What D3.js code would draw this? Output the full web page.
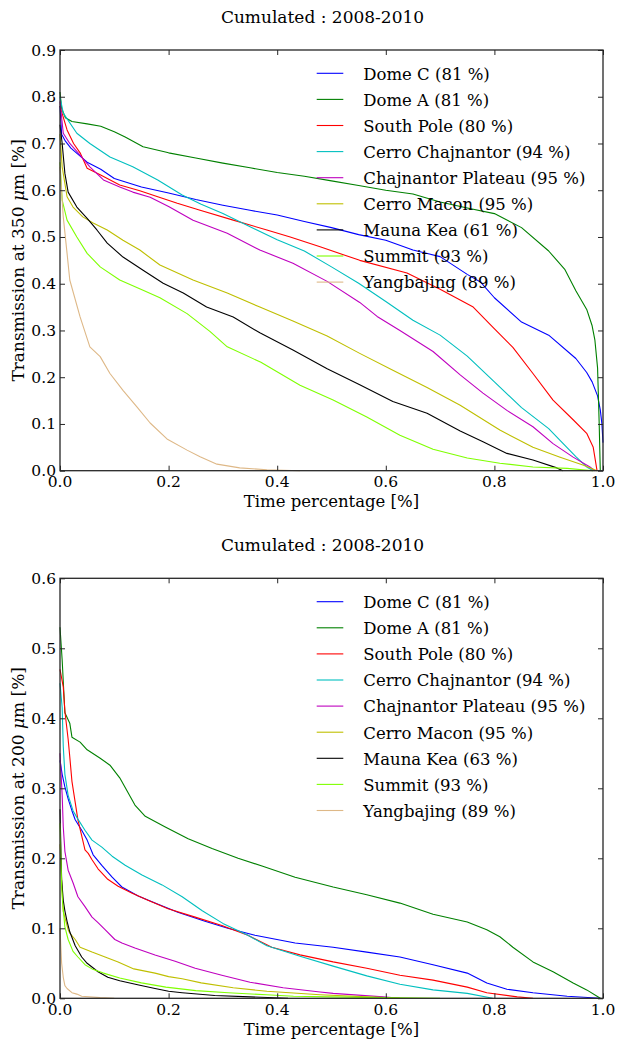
<!DOCTYPE html>
<html>
<head>
<meta charset="utf-8">
<script src="https://cdn.jsdelivr.net/npm/d3@7"></script>
<style>
  body { margin: 0; background: #fff; }
</style>
</head>
<body>
<svg id="chart" width="617" height="1041"></svg>
<script>
// sites, colours and the share of usable time shown in the legend
const siteNames = ['Dome C', 'Dome A', 'South Pole', 'Cerro Chajnantor', 'Chajnantor Plateau',
  'Cerro Macon', 'Mauna Kea', 'Summit', 'Yangbajing'];
const siteColors = ['#0000ff', '#008000', '#ff0000', '#00bfbf', '#bf00bf',
  '#bfbf00', '#000000', '#7fff00', '#deb887'];
const share350 = [81, 81, 80, 94, 95, 95, 61, 93, 89];
const share200 = [81, 81, 80, 94, 95, 95, 63, 93, 89];

const xTicks = [0, 0.2, 0.4, 0.6, 0.8, 1.0];
const yTicks350 = [0, 0.1, 0.2, 0.3, 0.4, 0.5, 0.6, 0.7, 0.8, 0.9];
const yTicks200 = [0, 0.1, 0.2, 0.3, 0.4, 0.5, 0.6];

// [time fraction, transmission], 350 um
const domeC350 = [[0,0.78],[0.003,0.72],[0.01,0.705],[0.02,0.69],[0.05,0.66],[0.075,0.645],[0.1,0.625],[0.15,0.607],[0.2,0.594],[0.25,0.58],[0.3,0.568],[0.35,0.557],[0.4,0.547],[0.45,0.533],[0.5,0.52],[0.55,0.505],[0.6,0.493],[0.65,0.472],[0.7,0.458],[0.75,0.42],[0.775,0.403],[0.8,0.37],[0.85,0.318],[0.9,0.29],[0.95,0.24],[0.97,0.21],[0.98,0.19],[0.99,0.16],[0.995,0.13],[0.998,0.1],[1,0.06]];
const domeA350 = [[0,0.81],[0.003,0.775],[0.01,0.755],[0.022,0.747],[0.05,0.742],[0.075,0.737],[0.1,0.725],[0.12,0.714],[0.153,0.693],[0.2,0.68],[0.25,0.669],[0.3,0.658],[0.35,0.648],[0.4,0.638],[0.45,0.63],[0.5,0.62],[0.55,0.61],[0.6,0.6],[0.65,0.592],[0.7,0.575],[0.75,0.562],[0.8,0.55],[0.85,0.52],[0.9,0.47],[0.93,0.43],[0.95,0.385],[0.97,0.345],[0.98,0.31],[0.985,0.28],[0.99,0.22],[0.993,0.1],[0.995,0]];
const southPole350 = [[0,0.78],[0.005,0.76],[0.013,0.729],[0.025,0.7],[0.037,0.68],[0.05,0.647],[0.074,0.633],[0.11,0.611],[0.147,0.599],[0.18,0.586],[0.216,0.572],[0.258,0.557],[0.319,0.536],[0.381,0.515],[0.424,0.5],[0.479,0.479],[0.552,0.45],[0.639,0.423],[0.7,0.388],[0.761,0.35],[0.797,0.307],[0.834,0.264],[0.871,0.208],[0.908,0.151],[0.945,0.109],[0.97,0.08],[0.982,0.05],[0.989,0]];
const cerroChaj350 = [[0,0.8],[0.006,0.765],[0.031,0.722],[0.055,0.7],[0.092,0.671],[0.134,0.65],[0.18,0.622],[0.225,0.59],[0.26,0.57],[0.3,0.55],[0.35,0.522],[0.4,0.494],[0.45,0.47],[0.5,0.436],[0.55,0.401],[0.6,0.362],[0.65,0.322],[0.7,0.29],[0.75,0.245],[0.8,0.19],[0.85,0.135],[0.9,0.09],[0.92,0.066],[0.95,0.03],[0.97,0.008],[0.982,0]];
const chajPlat350 = [[0,0.79],[0.006,0.722],[0.018,0.7],[0.037,0.675],[0.055,0.65],[0.08,0.622],[0.11,0.607],[0.134,0.596],[0.166,0.585],[0.2,0.565],[0.245,0.536],[0.308,0.508],[0.368,0.472],[0.429,0.444],[0.492,0.405],[0.552,0.36],[0.584,0.33],[0.626,0.3],[0.687,0.255],[0.737,0.205],[0.779,0.166],[0.823,0.129],[0.871,0.094],[0.908,0.058],[0.945,0.029],[0.976,0.008],[0.985,0]];
const cerroMacon350 = [[0,0.72],[0.004,0.65],[0.013,0.586],[0.024,0.564],[0.042,0.543],[0.061,0.53],[0.087,0.515],[0.116,0.493],[0.147,0.472],[0.184,0.44],[0.245,0.408],[0.308,0.38],[0.368,0.35],[0.429,0.32],[0.492,0.288],[0.552,0.251],[0.613,0.215],[0.676,0.178],[0.737,0.14],[0.81,0.087],[0.871,0.05],[0.921,0.029],[0.963,0.012],[0.989,0]];
const maunaKea350 = [[0,0.74],[0.004,0.7],[0.009,0.636],[0.015,0.596],[0.031,0.564],[0.05,0.54],[0.068,0.515],[0.087,0.487],[0.116,0.457],[0.153,0.429],[0.19,0.401],[0.227,0.38],[0.27,0.35],[0.319,0.329],[0.368,0.295],[0.429,0.258],[0.492,0.218],[0.552,0.184],[0.613,0.148],[0.676,0.123],[0.737,0.085],[0.779,0.062],[0.823,0.037],[0.871,0.023],[0.915,0.006],[0.926,0]];
const summit350 = [[0,0.66],[0.004,0.579],[0.013,0.536],[0.031,0.5],[0.05,0.465],[0.074,0.436],[0.11,0.408],[0.153,0.386],[0.184,0.37],[0.234,0.336],[0.276,0.298],[0.308,0.265],[0.37,0.232],[0.442,0.183],[0.503,0.151],[0.565,0.115],[0.626,0.076],[0.687,0.046],[0.75,0.027],[0.81,0.016],[0.871,0.008],[0.934,0.005],[0.982,0]];
const yangbajing350 = [[0,0.65],[0.006,0.543],[0.013,0.465],[0.018,0.408],[0.037,0.329],[0.055,0.265],[0.074,0.244],[0.092,0.208],[0.116,0.172],[0.142,0.136],[0.166,0.102],[0.197,0.068],[0.234,0.044],[0.258,0.03],[0.289,0.014],[0.331,0.006],[0.381,0.002],[0.442,0]];

// same, 200 um
const domeC200 = [[0,0.34],[0.004,0.32],[0.009,0.302],[0.015,0.285],[0.022,0.268],[0.028,0.255],[0.04,0.24],[0.05,0.226],[0.061,0.205],[0.077,0.19],[0.096,0.173],[0.114,0.159],[0.144,0.146],[0.175,0.136],[0.217,0.123],[0.267,0.11],[0.309,0.1],[0.359,0.09],[0.433,0.079],[0.503,0.073],[0.565,0.066],[0.626,0.059],[0.687,0.048],[0.75,0.036],[0.786,0.022],[0.823,0.013],[0.871,0.008],[0.934,0.003],[0.995,0]];
const domeA200 = [[0,0.53],[0.004,0.483],[0.009,0.408],[0.018,0.393],[0.022,0.373],[0.037,0.366],[0.05,0.355],[0.074,0.343],[0.092,0.333],[0.11,0.315],[0.138,0.276],[0.157,0.26],[0.193,0.245],[0.236,0.228],[0.28,0.214],[0.328,0.2],[0.372,0.189],[0.433,0.173],[0.503,0.159],[0.565,0.148],[0.626,0.136],[0.687,0.12],[0.75,0.109],[0.786,0.098],[0.81,0.088],[0.834,0.073],[0.871,0.052],[0.908,0.038],[0.945,0.022],[0.97,0.012],[0.995,0]];
const southPole200 = [[0,0.47],[0.006,0.445],[0.009,0.41],[0.015,0.37],[0.018,0.345],[0.022,0.31],[0.028,0.28],[0.033,0.255],[0.04,0.232],[0.046,0.212],[0.052,0.207],[0.059,0.198],[0.07,0.185],[0.088,0.17],[0.107,0.16],[0.133,0.15],[0.162,0.14],[0.199,0.128],[0.249,0.116],[0.298,0.104],[0.346,0.09],[0.39,0.073],[0.442,0.062],[0.503,0.052],[0.565,0.043],[0.626,0.033],[0.687,0.026],[0.75,0.016],[0.786,0.008],[0.842,0.002],[0.871,0]];
const cerroChaj200 = [[0,0.45],[0.004,0.415],[0.006,0.36],[0.009,0.32],[0.015,0.29],[0.024,0.268],[0.033,0.256],[0.046,0.24],[0.059,0.226],[0.077,0.216],[0.096,0.203],[0.12,0.19],[0.151,0.176],[0.188,0.162],[0.225,0.145],[0.262,0.125],[0.3,0.107],[0.346,0.09],[0.381,0.075],[0.442,0.06],[0.503,0.046],[0.565,0.032],[0.626,0.02],[0.687,0.012],[0.75,0.007],[0.797,0]];
const chajPlat200 = [[0,0.35],[0.004,0.29],[0.006,0.245],[0.009,0.21],[0.015,0.183],[0.024,0.165],[0.033,0.145],[0.046,0.131],[0.059,0.116],[0.07,0.108],[0.083,0.098],[0.101,0.084],[0.114,0.079],[0.138,0.072],[0.175,0.062],[0.212,0.053],[0.249,0.043],[0.298,0.033],[0.35,0.023],[0.411,0.015],[0.479,0.009],[0.503,0.007],[0.595,0.002],[0.626,0]];
const cerroMacon200 = [[0,0.22],[0.004,0.152],[0.006,0.124],[0.015,0.098],[0.018,0.093],[0.028,0.084],[0.037,0.073],[0.059,0.066],[0.083,0.059],[0.107,0.052],[0.136,0.042],[0.175,0.036],[0.2,0.031],[0.225,0.028],[0.26,0.022],[0.319,0.015],[0.381,0.01],[0.479,0.005],[0.565,0.002],[0.626,0]];
const maunaKea200 = [[0,0.27],[0.003,0.17],[0.006,0.14],[0.009,0.125],[0.013,0.11],[0.018,0.095],[0.028,0.075],[0.04,0.059],[0.05,0.05],[0.07,0.038],[0.088,0.03],[0.11,0.025],[0.145,0.019],[0.175,0.014],[0.2,0.01],[0.225,0.008],[0.285,0.004],[0.35,0.002],[0.42,0]];
const summit200 = [[0,0.25],[0.003,0.16],[0.005,0.135],[0.009,0.102],[0.015,0.084],[0.024,0.067],[0.033,0.059],[0.046,0.048],[0.059,0.042],[0.08,0.036],[0.11,0.029],[0.15,0.022],[0.195,0.016],[0.25,0.011],[0.31,0.008],[0.38,0.005],[0.43,0.003],[0.5,0.002],[0.6,0.001],[0.7,0]];
const yangbajing200 = [[0,0.1],[0.003,0.05],[0.006,0.03],[0.009,0.018],[0.013,0.014],[0.022,0.008],[0.031,0.006],[0.04,0.003],[0.074,0.001],[0.1,0]];

const panels = [
  { wave: '350', top: 50, bottom: 470.7, yMax: 0.9, yTicks: yTicks350, shares: share350, legendTop: 73.3,
    series: [domeC350, domeA350, southPole350, cerroChaj350, chajPlat350, cerroMacon350, maunaKea350, summit350, yangbajing350] },
  { wave: '200', top: 578.3, bottom: 998.3, yMax: 0.6, yTicks: yTicks200, shares: share200, legendTop: 601.7,
    series: [domeC200, domeA200, southPole200, cerroChaj200, chajPlat200, cerroMacon200, maunaKea200, summit200, yangbajing200] },
];

const left = 60, right = 603, tickLen = 5;
const serif = "'DejaVu Serif', 'Liberation Serif', serif";
const svg = d3.select('#chart').attr('font-family', serif);
const x = d3.scaleLinear().domain([0, 1]).range([left, right]);

panels.forEach(p => {
  const y = d3.scaleLinear().domain([0, p.yMax]).range([p.bottom, p.top]);
  const g = svg.append('g');
  const line = d3.line().x(d => x(d[0])).y(d => y(d[1]));

  g.selectAll('path.site')
    .data(p.series)
    .enter()
    .append('path')
    .attr('class', 'site')
    .attr('d', line)
    .attr('fill', 'none')
    .attr('stroke', (v, i) => siteColors[i])
    .attr('stroke-width', 1.1)
    .attr('stroke-linejoin', 'round');

  // inward ticks on all four sides
  const axisColor = '#262626';
  g.append('g').attr('transform', `translate(0,${p.bottom})`)
    .call(d3.axisTop(x).tickValues(xTicks).tickSize(tickLen).tickFormat(''));
  g.append('g').attr('transform', `translate(0,${p.top})`)
    .call(d3.axisBottom(x).tickValues(xTicks).tickSize(tickLen).tickFormat(''));
  g.append('g').attr('transform', `translate(${left},0)`)
    .call(d3.axisRight(y).tickValues(p.yTicks).tickSize(tickLen).tickFormat(''));
  g.append('g').attr('transform', `translate(${right},0)`)
    .call(d3.axisLeft(y).tickValues(p.yTicks).tickSize(tickLen).tickFormat(''));
  g.selectAll('.domain').remove();
  g.selectAll('.tick line').attr('stroke', axisColor).attr('stroke-width', 1);

  g.append('rect')
    .attr('x', left).attr('y', p.top)
    .attr('width', right - left).attr('height', p.bottom - p.top)
    .attr('fill', 'none').attr('stroke', axisColor).attr('stroke-width', 1.3);

  const txt = sel => sel.attr('font-family', serif).attr('fill', '#000');

  g.selectAll('text.xtick')
    .data(xTicks)
    .enter()
    .append('text')
    .call(txt)
    .attr('x', d => x(d))
    .attr('y', p.bottom + 16.6)
    .attr('text-anchor', 'middle')
    .attr('font-size', 15.5)
    .text(d => d.toFixed(1));

  g.selectAll('text.ytick')
    .data(p.yTicks)
    .enter()
    .append('text')
    .call(txt)
    .attr('x', left - 4)
    .attr('y', d => y(d) + 5.5)
    .attr('text-anchor', 'end')
    .attr('font-size', 15.5)
    .text(d => d.toFixed(1));

  g.append('text')
    .call(txt)
    .attr('x', (left + right) / 2 - 9)
    .attr('y', p.top - 27.5)
    .attr('text-anchor', 'middle')
    .attr('font-size', 17)
    .text('Cumulated : 2008-2010');

  g.append('text')
    .call(txt)
    .attr('x', (left + right) / 2)
    .attr('y', p.bottom + 36.2)
    .attr('text-anchor', 'middle')
    .attr('font-size', 16.5)
    .text('Time percentage [%]');

  const yl = g.append('text')
    .call(txt)
    .attr('transform', `translate(23.5,${(p.top + p.bottom) / 2}) rotate(-90)`)
    .attr('text-anchor', 'middle')
    .attr('font-size', 17);
  yl.append('tspan').text(`Transmission at ${p.wave} `);
  yl.append('tspan').attr('font-style', 'italic').text('μ');
  yl.append('tspan').text('m [%]');

  const leg = g.selectAll('g.leg')
    .data(siteNames)
    .enter()
    .append('g')
    .attr('transform', (v, i) => `translate(0,${p.legendTop + i * 26.1})`);
  leg.append('line')
    .attr('x1', 316.7).attr('x2', 343.3)
    .attr('stroke', (v, i) => siteColors[i])
    .attr('stroke-width', 1.1);
  leg.append('text')
    .call(txt)
    .attr('x', 363.3)
    .attr('y', 6.3)
    .attr('font-size', 16.5)
    .text((v, i) => `${v} (${p.shares[i]} %)`);
});
</script>
</body>
</html>
